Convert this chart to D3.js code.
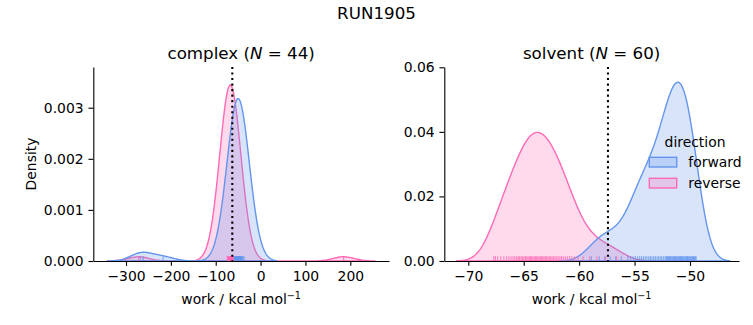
<!DOCTYPE html>
<html><head><meta charset="utf-8">
<script src="https://cdn.jsdelivr.net/npm/d3@7"></script>
<style>body{margin:0;background:#fff}</style>
</head><body><svg id="c" width="753" height="325"></svg>
<script>
// ---------------- data ----------------
const figureTitle = "RUN1905";
const directions = ["forward", "reverse"];
const directionColors = ["#6495ED", "#FF69B4"];
const panelNames = ["complex", "solvent"];
const panelN = [44, 60];

// work values (kcal/mol), one per rug tick
const complexForward = [-268.4, -261.7, -217.3,
  -63.5, -60.7, -59.3, -58.2, -57.4, -56.6, -56.0, -55.4, -54.9, -54.4, -53.9, -53.5, -53.1, -52.7,
  -52.3, -51.9, -51.5, -51.1, -50.7, -50.4, -50.0, -49.6, -49.3, -48.9, -48.5, -48.1, -47.8, -47.4,
  -46.9, -46.5, -46.1, -45.6, -45.1, -44.6, -44.0, -43.4, -42.6, -41.8, -40.7, -39.3, -36.5];
const complexReverse = [-271.8, 185.2,
  -74.3, -72.9, -72.2, -71.6, -71.2, -70.8, -70.5, -70.2, -69.9, -69.7, -69.5, -69.2, -69.0, -68.8,
  -68.6, -68.4, -68.2, -68.0, -67.9, -67.7, -67.5, -67.4, -67.3, -67.1, -66.9, -66.7, -66.5, -66.4,
  -66.2, -65.9, -65.7, -65.5, -65.3, -65.0, -64.8, -64.5, -64.2, -63.8, -63.4, -62.9, -62.1, -60.7];
const solventForward = [-58.9, -58.2, -57.7, -57.2, -56.7, -56.2,
  -55.6, -55.35, -55.12, -54.92, -54.72, -54.54, -54.37, -54.2, -54.04, -53.88, -53.72, -53.57,
  -53.42, -53.27, -53.12, -52.97, -52.83, -52.69, -52.55, -52.41,
  -52.25, -52.17, -52.09, -52.02, -51.94, -51.86, -51.78, -51.71, -51.63, -51.55, -51.47, -51.39,
  -51.32, -51.24, -51.16, -51.08, -51.01, -50.93, -50.85, -50.77, -50.69, -50.62, -50.54, -50.46,
  -50.38, -50.31, -50.23, -50.15, -50.07, -49.99, -49.92, -49.84, -49.76, -49.68, -49.61, -49.53, -49.45];
const solventReverse = [
  -64.05, -64.17, -64.28, -64.39, -64.5, -64.61, -64.73, -64.85, -64.98, -65.1, -65.23, -65.37,
  -65.49, -65.64, -65.8, -65.96, -66.14, -66.34, -66.54, -66.79, -67.08, -67.35, -67.55, -67.7,
  -63.95, -63.83, -63.73, -63.62, -63.5, -63.39, -63.28, -63.17, -63.04, -62.93, -62.81, -62.69,
  -62.56, -62.44, -62.3, -62.18, -62.03, -61.89, -61.74, -61.59, -61.43, -61.25, -61.07, -60.87,
  -60.66, -60.43, -60.1, -59.65, -59.05, -58.4, -57.6, -56.6];

// dotted reference lines (kcal/mol)
const complexMarker = -63.0;
const solventMarker = -57.4;

// ticks
const complexXTicks = [-300, -200, -100, 0, 100, 200];
const complexYTicks = [0, 0.001, 0.002, 0.003];
const solventXTicks = [-70, -65, -60, -55, -50];
const solventYTicks = [0, 0.02, 0.04, 0.06];

// ---------------- drawing ----------------
const FONT = '"DejaVu Sans", "Liberation Sans", sans-serif';
const svg = d3.select("#c");
const nTotal = complexForward.length + complexReverse.length + solventForward.length + solventReverse.length;

function scottBandwidth(v) { return d3.deviation(v) * Math.pow(v.length, -0.2); }
function kdeCurve(v) {
  const bw = scottBandwidth(v);
  const lo = d3.min(v) - 3 * bw, hi = d3.max(v) + 3 * bw;
  const norm = 1 / (nTotal * bw * Math.sqrt(2 * Math.PI));
  return d3.range(200).map(i => {
    const x = lo + (hi - lo) * i / 199;
    return [x, norm * d3.sum(v, d => Math.exp(-0.5 * ((x - d) / bw) ** 2))];
  });
}

function drawPanel(p) {
  const x = d3.scaleLinear().domain(p.xDomain).range([p.left, p.right]);
  const y = d3.scaleLinear().domain(p.yDomain).range([p.bottom, p.top]);
  const g = svg.append("g");
  const area = d3.area().x(d => x(d[0])).y0(y(0)).y1(d => y(d[1]));
  [1, 0].forEach(k => {
    g.append("path").attr("d", area(kdeCurve(p.series[k])))
      .attr("fill", directionColors[k]).attr("fill-opacity", 0.25)
      .attr("stroke", directionColors[k]).attr("stroke-width", 1.39).attr("stroke-linejoin", "round");
  });
  const rugH = 0.025 * (p.bottom - p.top);
  [0, 1].forEach(k => {
    g.append("g").selectAll("line").data(p.series[k]).join("line")
      .attr("x1", d => x(d)).attr("x2", d => x(d))
      .attr("y1", y(0)).attr("y2", y(0) - rugH)
      .attr("stroke", directionColors[k]).attr("stroke-width", 1.1).attr("stroke-opacity", 0.8);
  });
  g.append("line").attr("x1", x(p.marker)).attr("x2", x(p.marker))
    .attr("y1", p.top).attr("y2", p.bottom)
    .attr("stroke", "#000").attr("stroke-width", 2.08).attr("stroke-dasharray", "2.08,3.44");

  const xa = g.append("g").attr("transform", `translate(0,${p.bottom})`)
    .call(d3.axisBottom(x).tickValues(p.xTicks).tickFormat(d3.format("d"))
      .tickSize(4.86).tickPadding(4.86).tickSizeOuter(0));
  const ya = g.append("g").attr("transform", `translate(${p.left},0)`)
    .call(d3.axisLeft(y).tickValues(p.yTicks).tickFormat(d3.format(p.yFormat))
      .tickSize(4.86).tickPadding(4.86).tickSizeOuter(0));
  [xa, ya].forEach(a => {
    a.attr("font-family", FONT).attr("font-size", 13.9);
    a.selectAll("line,path").attr("stroke", "#000").attr("stroke-width", 1.11);
    a.selectAll("text").attr("fill", "#000");
  });

  const cx = (p.left + p.right) / 2;
  const t = g.append("text").attr("x", cx).attr("y", 58.7).attr("text-anchor", "middle")
    .attr("font-family", FONT).attr("font-size", 16.7).attr("fill", "#000");
  t.append("tspan").text(p.name + " (");
  t.append("tspan").attr("font-style", "italic").text("N");
  t.append("tspan").text(" = " + p.N + ")");

  const xl = g.append("text").attr("x", cx).attr("y", 304).attr("text-anchor", "middle")
    .attr("font-family", FONT).attr("font-size", 13.9).attr("fill", "#000");
  xl.append("tspan").text("work / kcal mol");
  xl.append("tspan").attr("dy", -5.5).attr("font-size", 9.7).text("\u22121");

  if (p.yLabel) {
    g.append("text").attr("transform", `translate(36,${(p.top + p.bottom) / 2}) rotate(-90)`)
      .attr("text-anchor", "middle").attr("font-family", FONT).attr("font-size", 13.9)
      .attr("fill", "#000").text(p.yLabel);
  }
}

drawPanel({
  name: panelNames[0], N: panelN[0], series: [complexForward, complexReverse],
  left: 93.3, right: 389, top: 67, bottom: 261,
  xDomain: [-372.9, 286.3], yDomain: [0, 0.003797],
  xTicks: complexXTicks, yTicks: complexYTicks, yFormat: ".3f",
  marker: complexMarker, yLabel: "Density"
});
drawPanel({
  name: panelNames[1], N: panelN[1], series: [solventForward, solventReverse],
  left: 444.3, right: 739, top: 67, bottom: 261,
  xDomain: [-72.165, -45.58], yDomain: [0, 0.06009],
  xTicks: solventXTicks, yTicks: solventYTicks, yFormat: ".2f",
  marker: solventMarker, yLabel: null
});

svg.append("text").attr("x", 376.5).attr("y", 19).attr("text-anchor", "middle")
  .attr("font-family", FONT).attr("font-size", 16.7).attr("fill", "#000").text(figureTitle);

// legend
const lg = svg.append("g").attr("font-family", FONT).attr("font-size", 13.9);
lg.append("text").attr("x", 695).attr("y", 146.5).attr("text-anchor", "middle").attr("fill", "#000").text("direction");
directions.forEach((d, k) => {
  const yy = 157.3 + k * 21;
  lg.append("rect").attr("x", 649.3).attr("y", yy).attr("width", 27.4).attr("height", 9.7)
    .attr("fill", directionColors[k]).attr("fill-opacity", 0.25)
    .attr("stroke", directionColors[k]).attr("stroke-width", 1.39);
  lg.append("text").attr("x", 688.3).attr("y", yy + 9.3).attr("fill", "#000").text(d);
});
</script></body></html>
